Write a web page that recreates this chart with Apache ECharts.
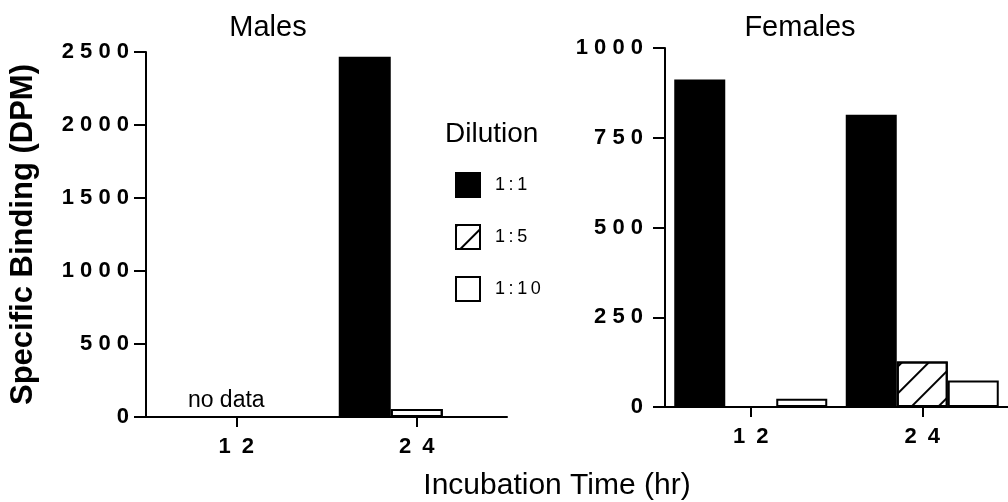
<!DOCTYPE html>
<html>
<head>
<meta charset="utf-8">
<script src="https://cdn.jsdelivr.net/npm/echarts@6/dist/echarts.min.js"></script>
<style>
  html, body { margin: 0; padding: 0; background: #fff; }
  #chart { width: 1008px; height: 502px; }
</style>
</head>
<body>
<div id="chart"></div>
<script>
// categories / data
const hours = ['12', '24'];
const dilutions = ['1:1', '1:5', '1:10'];

const males11 = [null, 2468];
const males15 = [0, 55];
const males110 = [null, 0];
const malesNote = ['no data', ''];

const females11 = [912, 814];
const females15 = [0, 127];
const females110 = [23, 74];

const malesTicks = [0, 500, 1000, 1500, 2000, 2500];
const femalesTicks = [0, 250, 500, 750, 1000];

const FONT = 'Liberation Sans';

// spaced-out digits like the original typesetting
function spaced(v) { return String(v).split('').join(' '); }
function wide(v) { return String(v).split('').join('\u2002'); }

function hatchOf(col) {
    return {
        symbol: 'rect',
        symbolSize: 1,
        color: col,
        dashArrayX: [[1, 0]],
        dashArrayY: [2, 17],
        rotation: -Math.PI / 4
    };
}

const styles = [
    { color: '#000', borderColor: '#000', borderWidth: 2 },
    { color: '#fff', borderColor: '#000', borderWidth: 2, decal: hatchOf('#000') },
    { color: '#fff', borderColor: '#000', borderWidth: 2 }
];

function yAxisOf(ticks, idx, margin, extra) {
    return Object.assign({
        type: 'value',
        gridIndex: idx,
        min: ticks[0],
        max: ticks[ticks.length - 1],
        interval: ticks[1] - ticks[0],
        splitLine: { show: false },
        axisLine: { show: true, lineStyle: { color: '#000', width: 2 } },
        axisTick: { show: true, length: 12, lineStyle: { color: '#000', width: 2 } },
        axisLabel: {
            color: '#000', fontFamily: FONT, fontWeight: 'bold', fontSize: 22,
            margin: margin, formatter: spaced
        }
    }, extra || {});
}

function xAxisOf(idx) {
    return {
        type: 'category',
        gridIndex: idx,
        data: hours,
        axisLine: { show: true, lineStyle: { color: '#000', width: 2 } },
        axisTick: { show: true, alignWithLabel: true, length: 10, lineStyle: { color: '#000', width: 2 } },
        axisLabel: {
            color: '#000', fontFamily: FONT, fontWeight: 'bold', fontSize: 22,
            margin: 19, formatter: wide
        }
    };
}

const malesData = [males11, males15, males110];
const femalesData = [females11, females15, females110];

const series = [];
malesData.forEach(function (vals, i) {
    series.push({
        name: dilutions[i],
        type: 'bar',
        xAxisIndex: 0,
        yAxisIndex: 0,
        barWidth: 52,
        barGap: '0%',
        itemStyle: styles[i],
        data: vals.map(function (v, k) {
            if (i === 1 && malesNote[k]) {
                return {
                    value: v,
                    label: {
                        show: true, position: 'top', distance: 4, offset: [-10, 0],
                        formatter: malesNote[k], color: '#000',
                        fontFamily: FONT, fontSize: 23
                    }
                };
            }
            if (i === 1) {
                // the short male bar prints without visible hatching
                return { value: v, itemStyle: { decal: hatchOf('rgba(0,0,0,0)') } };
            }
            return v;
        })
    });
});
femalesData.forEach(function (vals, i) {
    series.push({
        name: dilutions[i],
        type: 'bar',
        xAxisIndex: 1,
        yAxisIndex: 1,
        barWidth: 51,
        barGap: '0%',
        itemStyle: styles[i],
        data: vals
    });
});

function titleText(size) {
    return { color: '#000', fontFamily: FONT, fontWeight: 'normal', fontSize: size };
}

const myChart = echarts.init(document.getElementById('chart'), null, { renderer: 'canvas' });
const option = {
    animation: false,
    backgroundColor: '#fff',
    title: [
        { text: 'Males', left: 263, top: 8, textAlign: 'center', textStyle: titleText(29) },
        { text: 'Females', left: 795, top: 8, textAlign: 'center', textStyle: titleText(29) },
        { text: 'Dilution', left: 440, top: 115, textStyle: titleText(28) },
        { text: 'Incubation Time (hr)', left: 552, top: 466, textAlign: 'center', textStyle: titleText(30) }
    ],
    legend: {
        data: dilutions,
        orient: 'vertical',
        left: 450,
        top: 167,
        itemWidth: 24,
        itemHeight: 24,
        itemGap: 26,
        icon: 'rect',
        textStyle: {
            color: '#000', fontFamily: FONT, fontSize: 18,
            padding: [0, 0, 0, 10]
        },
        formatter: function (name) { return name.split('').join('\u2009'); }
    },
    grid: [
        { left: 146, top: 52, width: 361, height: 365 },
        { left: 665, top: 48, width: 350, height: 359 }
    ],
    xAxis: [xAxisOf(0), xAxisOf(1)],
    yAxis: [
        yAxisOf(malesTicks, 0, 17, {
            name: 'Specific Binding (DPM)',
            nameLocation: 'middle',
            nameGap: 107,
            nameTextStyle: { color: '#000', fontFamily: FONT, fontWeight: 'bold', fontSize: 31 }
        }),
        yAxisOf(femalesTicks, 1, 22)
    ],
    series: series
};
myChart.setOption(option);
</script>
</body>
</html>
